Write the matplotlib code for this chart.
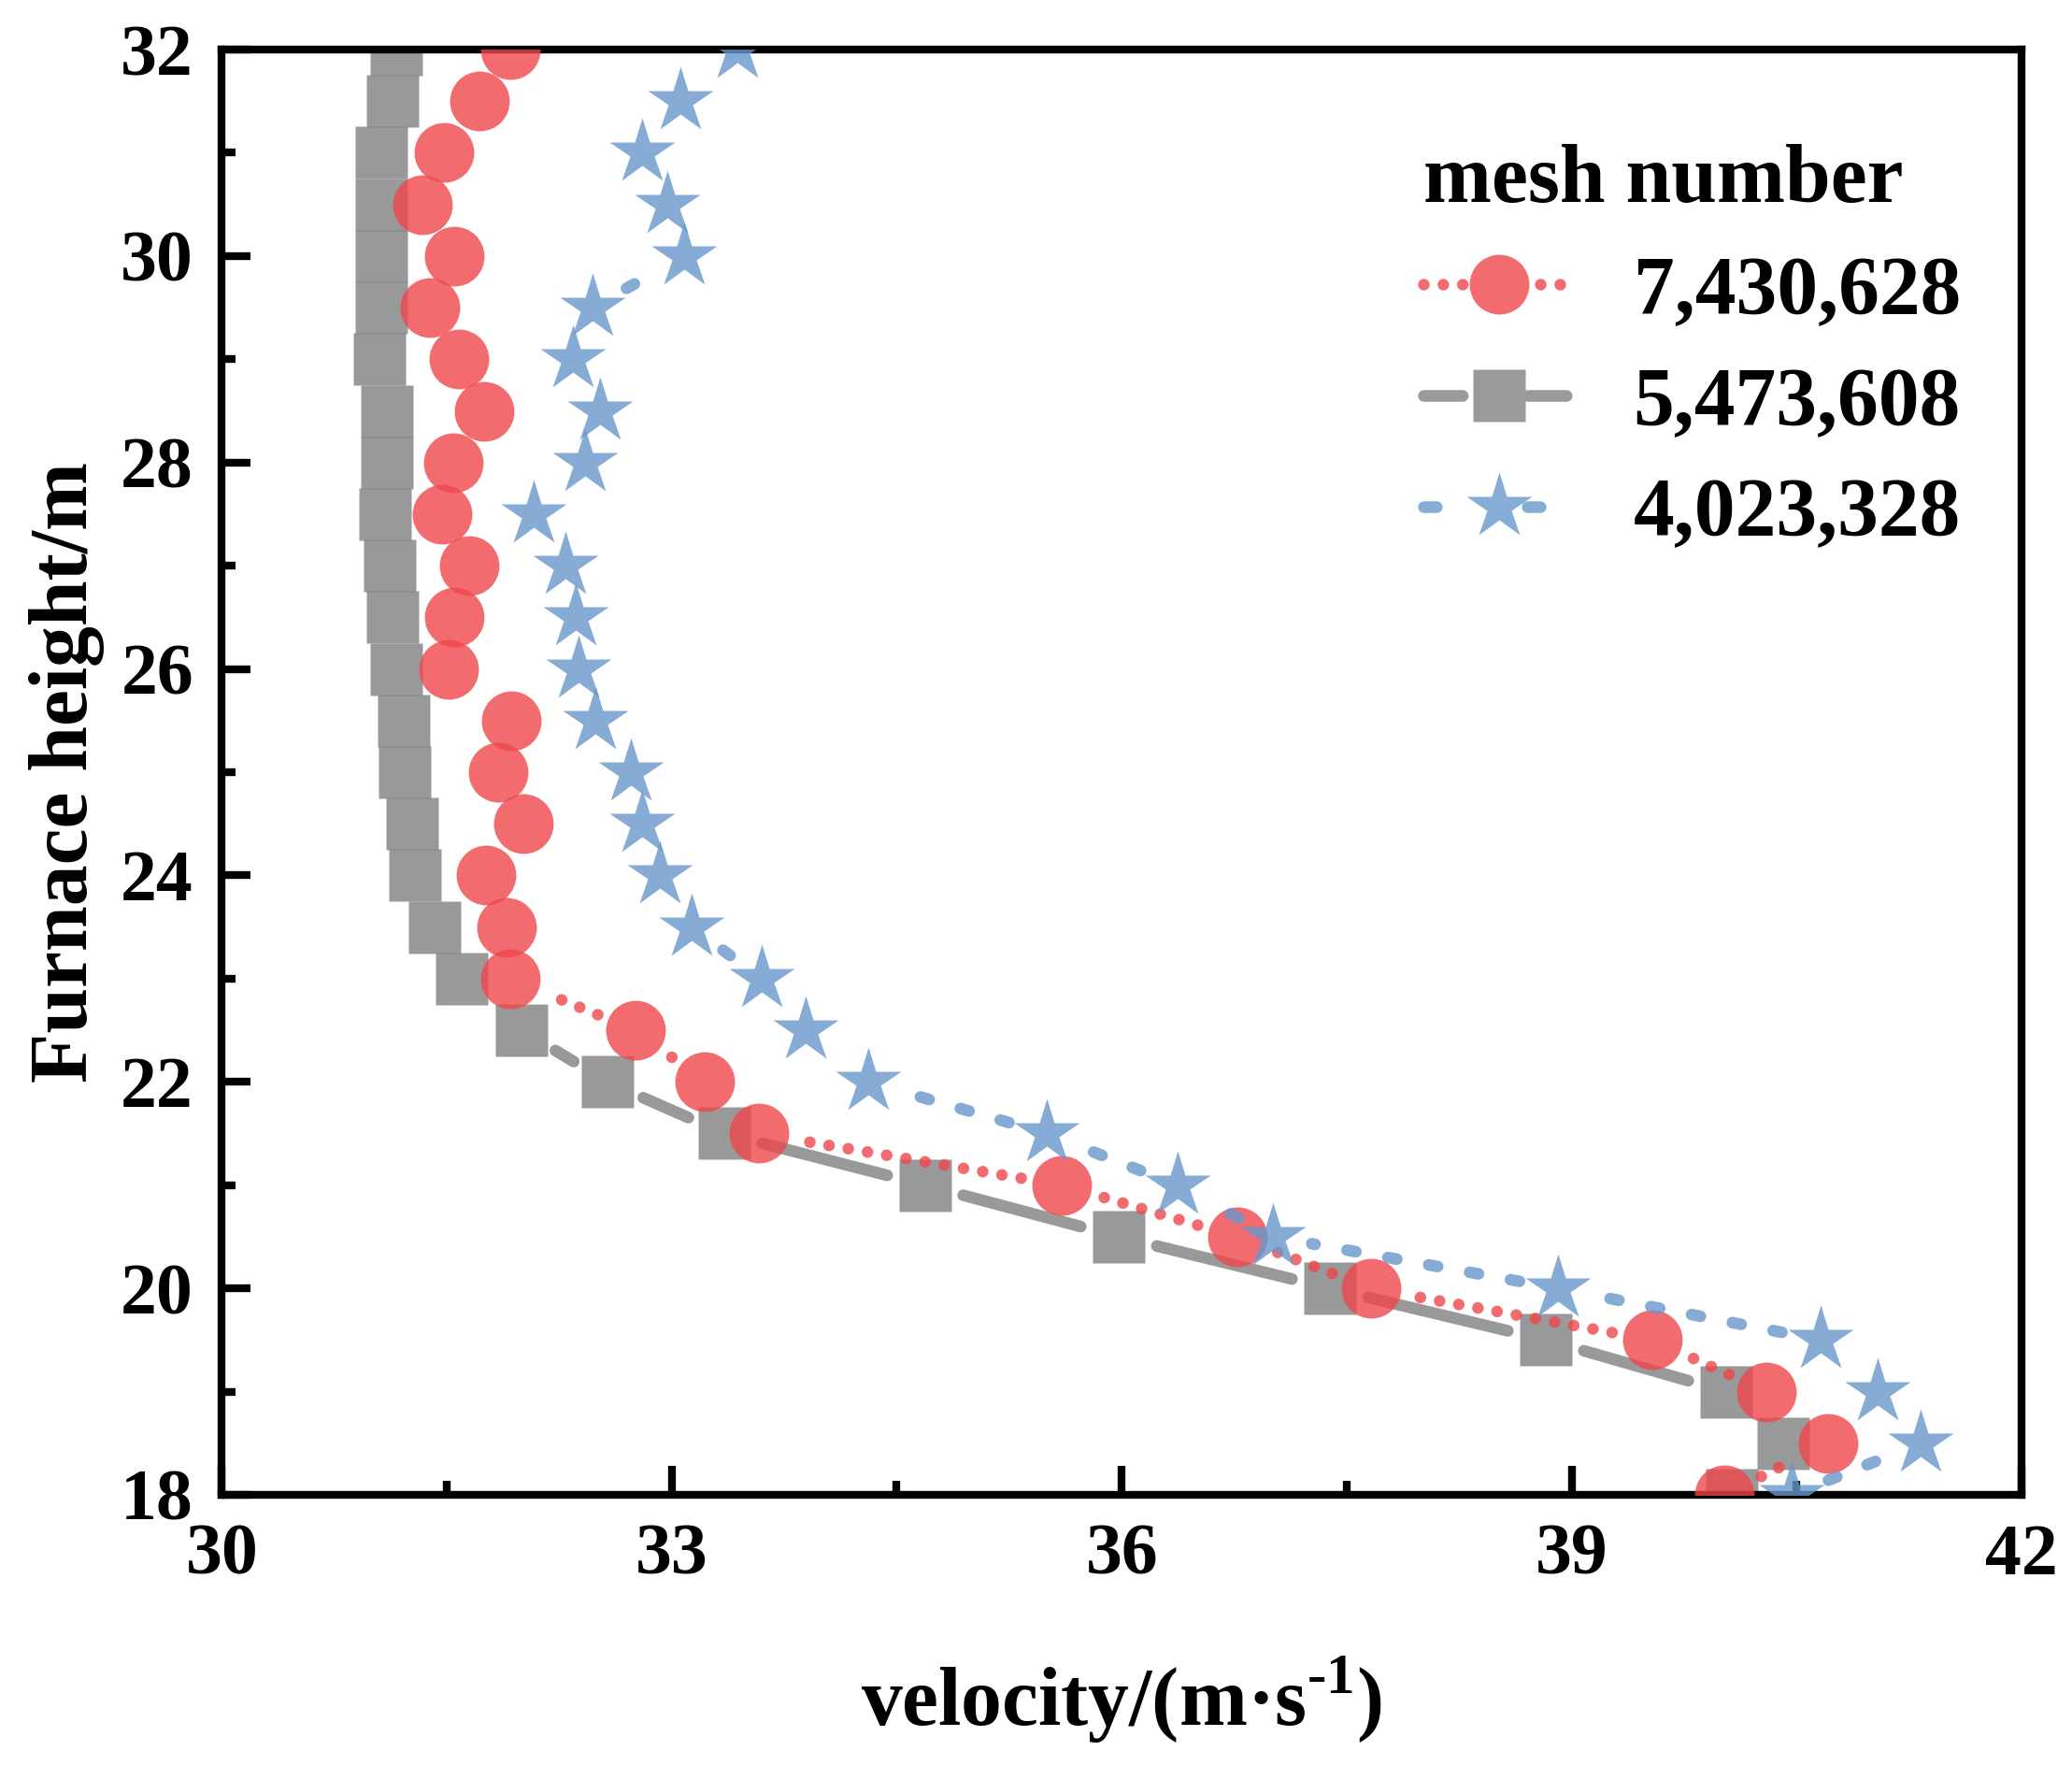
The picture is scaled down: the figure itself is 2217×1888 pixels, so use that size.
import numpy as np
import matplotlib
matplotlib.use('Agg')
import matplotlib.pyplot as plt
from matplotlib.lines import Line2D
from matplotlib.ticker import MultipleLocator

plt.rcParams['font.family'] = ['Liberation Serif', 'DejaVu Serif']
plt.rcParams['font.weight'] = 'bold'
plt.rcParams['axes.labelweight'] = 'bold'
plt.rcParams['mathtext.fontset'] = 'custom'
plt.rcParams['mathtext.rm'] = 'Liberation Serif:bold'
plt.rcParams['mathtext.bf'] = 'Liberation Serif:bold'
plt.rcParams['lines.scale_dashes'] = False

# furnace height (m)
heights = [18.0, 18.5, 19.0, 19.5, 20.0, 20.5, 21.0, 21.5, 22.0, 22.5,
           23.0, 23.5, 24.0, 24.5, 25.0, 25.5, 26.0, 26.5, 27.0, 27.5,
           28.0, 28.5, 29.0, 29.5, 30.0, 30.5, 31.0, 31.5, 32.0]
# velocity (m/s) for each mesh
mesh_7430628 = [40.02, 40.71, 40.30, 39.54, 37.66, 36.77, 35.60, 33.58, 33.22, 32.76,
                31.92, 31.90, 31.76, 32.01, 31.84, 31.93, 31.51, 31.55, 31.65, 31.47,
                31.54, 31.75, 31.58, 31.39, 31.55, 31.34, 31.48, 31.72, 31.92]
mesh_5473608 = [40.07, 40.41, 40.03, 38.83, 37.39, 35.98, 34.69, 33.35, 32.57, 32.00,
                31.60, 31.42, 31.29, 31.27, 31.22, 31.21, 31.16, 31.14, 31.12, 31.09,
                31.10, 31.10, 31.05, 31.06, 31.06, 31.06, 31.06, 31.14, 31.16]
mesh_4023328 = [40.47, 41.33, 41.04, 40.66, 38.91, 37.01, 36.37, 35.50, 34.31, 33.89,
                33.60, 33.13, 32.92, 32.80, 32.73, 32.49, 32.38, 32.36, 32.29, 32.08,
                32.42, 32.52, 32.34, 32.47, 33.08, 32.97, 32.80, 33.06, 33.44]
labels = ['7,430,628', '5,473,608', '4,023,328']

fig = plt.figure(figsize=(22.17, 18.88), dpi=100)
ax = fig.add_axes([0.1071, 0.1531, 0.8685, 0.8188])
ax.set_xlim(30, 42)
ax.set_ylim(18, 32)


def gapped_line(ax, xs, ys, gap, **kw):
    # origin style "gap to symbol": each segment stops short of the markers
    pts = ax.transData.transform(np.column_stack([xs, ys]))
    inv = ax.transData.inverted()
    for p0, p1 in zip(pts[:-1], pts[1:]):
        d = p1 - p0
        L = np.hypot(d[0], d[1])
        if L <= 2 * gap + 4:
            continue
        u = d / L
        a = inv.transform(p0 + u * gap)
        b = inv.transform(p1 - u * gap)
        ax.plot([a[0], b[0]], [a[1], b[1]], **kw)


# style per series: base colour, marker, size, linestyle, gap(px), zorder
styles = [
    ('#EF474B', 'o', 46, (0, (0.01, 15)), 44, 3),
    ('#808080', 's', 41, (0, (112, 40)), 42, 2),
    ('#6898CC', '*', 53, (0, (7, 25)), 42, 4),
]
series = [mesh_7430628, mesh_5473608, mesh_4023328]
alpha = 0.8
lw = 9

for vals, (col, mk, ms, ls, gap, z) in zip(series, styles):
    gapped_line(ax, vals, heights, gap, color=col, alpha=alpha, lw=lw,
                linestyle=ls, dash_capstyle='round', solid_capstyle='round',
                zorder=z)
    ax.plot(vals, heights, linestyle='none', marker=mk, markersize=ms,
            markerfacecolor=col, markeredgecolor='none', alpha=alpha,
            zorder=z + 0.1)

# legend proxies (colours already blended on white)
leg_cols = ['#F26C6F', '#9A9A9A', '#86ADD6']
leg_ls = [(0, (0.01, 15)), (0, (30, 50)), (0, (10, 70))]
handles = []
for (col, mk, ms, _, _, _), c2, ls in zip(styles, leg_cols, leg_ls):
    handles.append(Line2D([], [], color=c2, lw=lw, linestyle=ls,
                          dash_capstyle='round', marker=mk, markersize=ms,
                          markerfacecolor=c2, markeredgecolor='none'))
leg = ax.legend(handles, labels, title='mesh number', loc='upper right',
                bbox_to_anchor=(0.998, 0.974), frameon=False, fontsize=63,
                title_fontproperties={'size': 63, 'weight': 'bold'},
                alignment='left', handlelength=1.85, handletextpad=0.72,
                labelspacing=0.43, borderpad=0.2)

ax.xaxis.set_major_locator(MultipleLocator(3))
ax.xaxis.set_minor_locator(MultipleLocator(1.5))
ax.yaxis.set_major_locator(MultipleLocator(2))
ax.yaxis.set_minor_locator(MultipleLocator(1))
ax.tick_params(which='both', direction='in', top=False, right=False,
               width=6, labelsize=56)
ax.tick_params(which='major', length=22)
ax.tick_params(which='minor', length=11)
ax.tick_params(axis='x', pad=22)
ax.tick_params(axis='y', pad=22)
for sp in ax.spines.values():
    sp.set_linewidth(6)

ax.set_xlabel('velocity/(m·s$^{\\text{-1}}$)', fontsize=63, labelpad=50)
ax.set_ylabel('Furnace height/m', fontsize=63, labelpad=12)

fig.savefig('out.png', dpi=100)
